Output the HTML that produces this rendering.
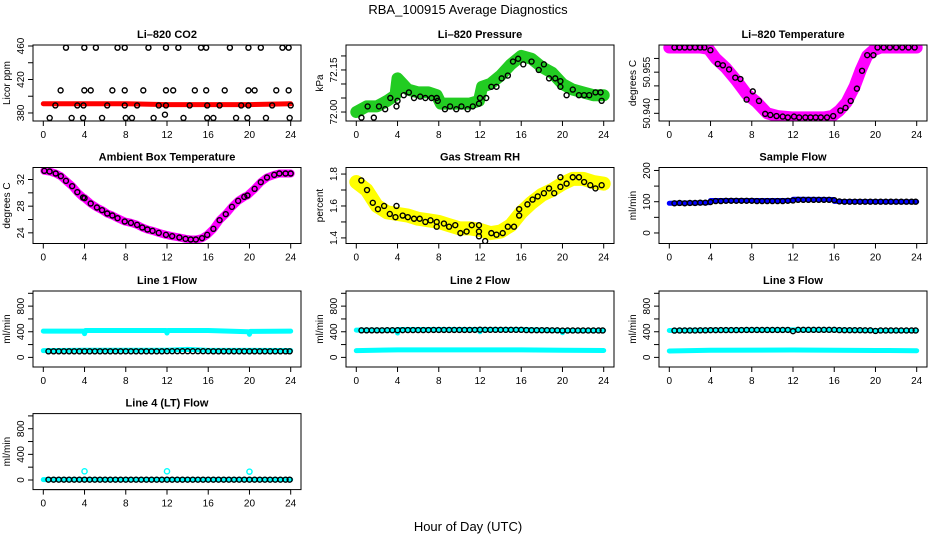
<!DOCTYPE html>
<html><head><meta charset="utf-8"><style>
html,body{margin:0;padding:0;background:#fff;}
svg{display:block;font-family:"Liberation Sans",Arial,sans-serif;}
</style></head><body>
<svg id="chart" width="936" height="540" viewBox="0 0 936 540" xmlns="http://www.w3.org/2000/svg">
<rect width="936" height="540" fill="#fff"/>
<text x="468" y="14" font-size="13" text-anchor="middle">RBA_100915  Average Diagnostics</text>
<text x="468" y="531" font-size="13" text-anchor="middle">Hour of Day (UTC)</text>
</svg>
<script>
// ---------- DATA ----------
const xTicks = [0,4,8,12,16,20,24];
// CO2
const co2Hours = [2.2,3.98,5.1,7.2,7.9,10.2,11.9,13.1,15.3,15.8,18.1,19.9,21.1,23.2,23.8,
 1.68,3.98,4.6,6.7,7.9,9.7,11.9,12.6,14.7,15.8,17.6,19.9,20.5,22.6,23.8,
 1.17,3.3,3.9,6.2,7.9,9.1,11.2,11.9,14.2,15.9,17.1,19.2,19.9,22.2,24.0,
 0.62,2.75,3.86,5.7,8.0,8.6,10.7,11.8,13.6,15.9,16.5,18.7,19.8,21.6,23.9];
const co2Vals = [458,458,458,458,458,458,458,458,458,458,458,458,458,458,458,
 407,407,407,407,407,407,407,407,407,407,407,407,407,407,407,
 389,389,389,389,389,389,389,389,389,389,389,389,389,389,389,
 374,374,374,374,374,374,374,378,374,374,374,374,374,374,374];
const co2BandH = [0,4,8,12,16,20,24];
const co2BandV = [391,391,391,390,390,390,391];
// Pressure
const presHours = [0.5,1.1,1.7,2.2,2.8,3.3,3.9,4.0,4.6,5.1,5.6,6.2,6.7,7.3,7.8,7.9,8.6,9.1,9.7,10.2,10.8,11.3,11.9,12.0,12.6,13.1,13.6,14.1,14.7,15.2,15.7,16.2,17.0,17.7,18.2,18.7,19.3,19.8,19.8,20.4,21.0,21.6,22.1,22.6,23.2,23.7,23.8];
const presVals = [71.98,72.02,71.98,72.02,72.01,72.05,72.02,72.04,72.06,72.07,72.05,72.055,72.05,72.05,72.05,72.04,72.01,72.02,72.01,72.02,72.01,72.02,72.03,72.05,72.05,72.09,72.09,72.12,72.13,72.18,72.19,72.17,72.18,72.15,72.17,72.12,72.12,72.11,72.09,72.06,72.08,72.06,72.06,72.06,72.07,72.07,72.04];
const presBandH = [0,1,2,3,3.8,4,4.5,5,6,7,7.8,8.2,9,10,11,11.9,12.2,13,14,15,16,17,18,19,20,21,22,23,24];
const presBandV = [72.00,72.02,72.02,72.04,72.06,72.12,72.10,72.08,72.07,72.07,72.06,72.03,72.03,72.03,72.03,72.04,72.09,72.10,72.13,72.17,72.20,72.19,72.16,72.14,72.10,72.08,72.07,72.06,72.06];
// Li-820 temperature
const tempHours = [0.5,1.0,1.5,2.0,2.5,3.0,3.4,3.99,4.7,5.2,5.8,6.4,6.9,7.5,8.1,8.7,9.3,9.8,10.4,11.0,11.5,12.1,12.6,13.2,13.7,14.2,14.7,15.3,15.9,16.6,17.1,17.6,18.2,18.7,19.2,19.8,20.2,20.8,21.4,22.0,22.6,23.2,23.8];
const tempVals = [50.964,50.964,50.964,50.964,50.964,50.964,50.964,50.963,50.958,50.9575,50.956,50.953,50.9525,50.945,50.948,50.9445,50.9398,50.9394,50.939,50.9388,50.9385,50.9388,50.9385,50.9385,50.9385,50.9385,50.9385,50.9385,50.939,50.941,50.942,50.9445,50.949,50.9555,50.9612,50.9612,50.964,50.964,50.964,50.964,50.964,50.964,50.964];
const tempBandH = [0,1,2,3,3.8,4.5,5.5,6.5,7.5,8.5,9.5,10.5,12,13,14,15,15.8,16.5,17.2,18,18.6,19.2,19.8,20.5,22,24];
const tempBandV = [50.964,50.964,50.964,50.964,50.9635,50.960,50.9565,50.952,50.947,50.944,50.940,50.939,50.9385,50.9385,50.9385,50.9385,50.939,50.941,50.944,50.950,50.956,50.961,50.963,50.964,50.964,50.964];
// Ambient box temperature
const ambHours = [0.1,0.61,1.2,1.7,2.2,2.8,3.3,3.86,4.0,4.6,5.2,5.7,6.2,6.7,7.2,7.9,8.5,9.1,9.6,10.1,10.6,11.2,11.9,12.5,13.2,13.8,14.3,14.8,15.4,15.9,16.5,17.1,17.7,18.3,18.9,19.5,19.8,20.5,21.1,21.7,22.4,22.9,23.5,24.0];
const ambVals = [33.3,33.2,32.9,32.5,31.8,31.0,30.1,29.3,29.2,28.4,27.8,27.4,26.9,26.6,26.2,25.7,25.5,25.2,24.8,24.5,24.3,24.0,23.7,23.5,23.3,23.1,23.0,23.0,23.2,23.7,24.6,25.9,26.8,27.9,28.8,29.4,29.6,30.6,31.6,32.3,32.7,32.9,32.9,32.9];
// Gas stream RH
const rhHours = [0.49,1.04,1.6,2.1,2.7,3.25,3.8,3.9,4.5,5.0,5.6,6.15,6.7,7.2,7.8,7.8,8.5,9.0,9.6,10.1,10.7,11.2,11.9,11.9,11.9,12.5,13.1,13.6,14.2,14.7,15.3,15.8,15.8,16.6,17.1,17.6,18.2,18.7,19.2,19.8,19.8,20.4,21.0,21.6,22.1,22.7,23.2,23.8];
const rhVals = [1.76,1.70,1.62,1.58,1.60,1.55,1.53,1.60,1.54,1.53,1.52,1.52,1.50,1.51,1.50,1.47,1.49,1.47,1.48,1.43,1.44,1.48,1.48,1.44,1.41,1.38,1.43,1.42,1.43,1.47,1.47,1.58,1.54,1.61,1.64,1.66,1.68,1.71,1.68,1.78,1.72,1.74,1.78,1.78,1.75,1.73,1.71,1.73];
const rhBandH = [0,1,2,3,4,5,6,7,8,9,10,11,12,13,14,15,16,17,18,19,20,21,22,23,24];
const rhBandV = [1.75,1.70,1.60,1.56,1.55,1.54,1.52,1.51,1.50,1.48,1.46,1.46,1.45,1.43,1.44,1.48,1.56,1.62,1.67,1.70,1.74,1.77,1.77,1.75,1.74];
// Flows (hours shared by black averages)
const flowHours = [0.5,1,1.5,2,2.5,3,3.5,4,4.5,5,5.5,6,6.5,7,7.5,8,8.5,9,9.5,10,10.5,11,11.5,12,12.5,13,13.5,14,14.5,15,15.5,16,16.5,17,17.5,18,18.5,19,19.5,20,20.5,21,21.5,22,22.5,23,23.5,23.9];
const sampleVals = [95,96,95,96,96,97,97,99,102,102,103,103,103,103,103,103,102,102,102,102,102,102,103,104,106,106,106,106,106,106,106,105,101,100,100,100,100,100,100,100,100,100,100,100,100,100,100,100];
const sampleBandH = [0,3.9,4,11.9,12,15.9,16,24];
const sampleBandV = [95,97,104,104,108,107,101,100];
const line1Vals = [95,95,95,95,95,95,95,95,95,95,95,95,95,95,95,95,95,95,95,95,95,95,95,96,96,96,96,96,96,96,96,96,95,95,95,95,95,95,95,95,95,95,95,95,95,95,95,95];
const line1HighH = [0,3.9,4,4.1,8,11.9,12,12.1,16,19.9,20,20.1,24];
const line1HighV = [410,410,370,420,420,420,380,420,420,400,360,405,410];
const line1LowH = [0,4,12,14,16,24];
const line1LowV = [105,112,112,125,110,108];
const line2Vals = [422,422,422,422,422,424,424,424,425,426,426,426,426,427,428,428,428,428,428,428,428,428,429,432,430,430,430,430,430,430,430,430,426,424,424,424,424,422,422,418,420,420,420,420,420,420,420,420];
const line2HighH = [0,3.9,4,4.1,8,11.9,12,12.1,16,19.9,20,20.1,24];
const line2HighV = [425,425,380,435,435,435,400,435,435,420,385,420,420];
const line2LowH = [0,4,12,16,20,24];
const line2LowV = [105,118,118,118,112,108];
const line3Vals = [418,420,420,420,420,422,422,425,425,426,426,426,426,427,428,428,428,428,428,428,428,428,429,410,430,430,430,430,430,430,430,430,426,424,424,424,424,422,422,412,420,420,420,420,420,420,420,420];
const line3HighH = [0,4,8,12,16,20,24];
const line3HighV = [420,425,430,430,430,420,420];
const line3LowH = [0,4,12,16,20,24];
const line3LowV = [100,112,115,112,108,104];
const line4Vals = [5,5,5,5,5,5,5,5,5,5,5,5,5,5,5,5,5,5,5,5,5,5,5,5,5,5,5,5,5,5,5,5,5,5,5,5,5,5,5,5,5,5,5,5,5,5,5,5];
const line4BandH = [0,24];
const line4BandV = [5,5];
const line4OutH = [4.0,12.0,20.0];
const line4OutV = [135,135,130];

// ---------- LAYOUT ----------
const svg = document.getElementById('chart');
const NS = 'http://www.w3.org/2000/svg';
const colLeft = [33,346,659], rowTop = [45,167.5,291,413.6];
const BW = 268, BH = 76;
function mk(tag, attrs){const e=document.createElementNS(NS,tag);for(const k in attrs)e.setAttribute(k,attrs[k]);return e;}

function panel(cfg){
  const L = colLeft[cfg.col], T = rowTop[cfg.row];
  const g = mk('g',{});
  
  
  svg.appendChild(g);
  const sx = h => L + 10.3 + h*(BW-20.6)/24;
  const sy = v => T + BH - (v - cfg.ymin)/(cfg.ymax - cfg.ymin)*BH;
  const cp = mk('clipPath',{id:'clip-'+cfg.id}); cp.appendChild(mk('rect',{x:L,y:T,width:BW,height:BH})); g.appendChild(cp);
  const plot = mk('g',{'clip-path':'url(#clip-'+cfg.id+')'}); g.appendChild(plot);
  (cfg.bands||[]).forEach(b=>{
    const pts = b.h.map((h,i)=>sx(h)+','+sy(b.v[i])).join(' ');
    const pl = mk('polyline',{points:pts,fill:'none',stroke:b.color,'stroke-width':b.w,'stroke-linejoin':'round','stroke-linecap':'round'});
    
    
    plot.appendChild(pl);
  });
  (cfg.extra||[]).forEach(c=>{
    c.h.forEach((h,i)=>{
      const ci = mk('circle',{cx:sx(h),cy:sy(c.v[i]),r:2.6,fill:'none',stroke:c.color,'stroke-width':1.4});
      
      
      plot.appendChild(ci);
    });
  });
  if(cfg.pts){
    cfg.pts.h.forEach((h,i)=>{
      const ci = mk('circle',{cx:sx(h),cy:sy(cfg.pts.v[i]),r:2.5,fill:'none',stroke:'#000','stroke-width':1.4});
      
      
      plot.appendChild(ci);
    });
  }
  g.appendChild(mk('rect',{x:L,y:T,width:BW,height:BH,fill:'none',stroke:'#000','stroke-width':1}));
  const xa = mk('g',{}); 
  
  
  g.appendChild(xa);
  xa.appendChild(mk('line',{x1:sx(0),x2:sx(24),y1:T+BH,y2:T+BH,stroke:'#000'}));
  xTicks.forEach(t=>{
    xa.appendChild(mk('line',{x1:sx(t),x2:sx(t),y1:T+BH,y2:T+BH+5,stroke:'#000'}));
    const tx = mk('text',{x:sx(t),y:T+BH+17,'font-size':10,'text-anchor':'middle'});
    tx.textContent = t;
    xa.appendChild(tx);
  });
  const ya = mk('g',{});
  
  
  g.appendChild(ya);
  const tk = cfg.ticks;
  ya.appendChild(mk('line',{x1:L,x2:L,y1:sy(tk[0]),y2:sy(tk[tk.length-1]),stroke:'#000'}));
  tk.forEach(t=>ya.appendChild(mk('line',{x1:L-5,x2:L,y1:sy(t),y2:sy(t),stroke:'#000'})));
  cfg.labels.forEach((lab,i)=>{
    const yy = sy(cfg.labelVals[i]);
    const tx = mk('text',{x:L-9,y:yy,'font-size':10,'text-anchor':'middle',transform:'rotate(-90 '+(L-9)+' '+yy+')'});
    tx.textContent = lab; ya.appendChild(tx);
  });
  const yt = mk('text',{x:L-23,y:T+BH/2,'font-size':10,'text-anchor':'middle',transform:'rotate(-90 '+(L-23)+' '+(T+BH/2)+')'});
  yt.textContent = cfg.ylab;
  
  
  g.appendChild(yt);
  const tt = mk('text',{x:L+BW/2,y:T-7,'font-size':11,'font-weight':'bold','text-anchor':'middle'});
  tt.textContent = cfg.title;
  
  
  g.appendChild(tt);
}

const flowTicks=[0,200,400,600,800,1000], flowLab=['0','400','800'], flowLabV=[0,400,800];
panel({id:'co2',title:'Li–820 CO2',ylab:'Licor ppm',col:0,row:0,ymin:370.4,ymax:461.2,ticks:[380,400,420,440,460],labels:['380','420','460'],labelVals:[380,420,460],
  bands:[{h:co2BandH,v:co2BandV,color:'#ff0000',w:5}],pts:{h:co2Hours,v:co2Vals}});
panel({id:'pressure',title:'Li–820 Pressure',ylab:'kPa',col:1,row:0,ymin:71.968,ymax:72.239,ticks:[72.00,72.05,72.10,72.15,72.20],labels:['72.00','72.15'],labelVals:[72.00,72.15],
  bands:[{h:presBandH,v:presBandV,color:'#22cc22',w:12}],pts:{h:presHours,v:presVals}});
panel({id:'li820-temp',title:'Li–820 Temperature',ylab:'degrees C',col:2,row:0,ymin:50.9372,ymax:50.9649,ticks:[50.940,50.945,50.950,50.955,50.960],labels:['50.940','50.955'],labelVals:[50.940,50.955],
  bands:[{h:tempBandH,v:tempBandV,color:'#ff00ff',w:12}],pts:{h:tempHours,v:tempVals}});
panel({id:'ambient-temp',title:'Ambient Box Temperature',ylab:'degrees C',col:0,row:1,ymin:22.4,ymax:33.8,ticks:[24,26,28,30,32],labels:['24','28','32'],labelVals:[24,28,32],
  bands:[{h:ambHours,v:ambVals,color:'#ff00ff',w:8}],pts:{h:ambHours,v:ambVals}});
panel({id:'rh',title:'Gas Stream RH',ylab:'percent',col:1,row:1,ymin:1.365,ymax:1.841,ticks:[1.4,1.5,1.6,1.7,1.8],labels:['1.4','1.6','1.8'],labelVals:[1.4,1.6,1.8],
  bands:[{h:rhBandH,v:rhBandV,color:'#ffff00',w:14}],pts:{h:rhHours,v:rhVals}});
panel({id:'sample-flow',title:'Sample Flow',ylab:'ml/min',col:2,row:1,ymin:-33.7,ymax:209.5,ticks:[0,50,100,150,200],labels:['0','100','200'],labelVals:[0,100,200],
  bands:[{h:sampleBandH,v:sampleBandV,color:'#0000ff',w:5}],pts:{h:flowHours,v:sampleVals}});
panel({id:'line1-flow',title:'Line 1 Flow',ylab:'ml/min',col:0,row:2,ymin:-150,ymax:1036,ticks:flowTicks,labels:flowLab,labelVals:flowLabV,
  bands:[{h:line1HighH,v:line1HighV,color:'#00ffff',w:5},{h:line1LowH,v:line1LowV,color:'#00ffff',w:5}],pts:{h:flowHours,v:line1Vals}});
panel({id:'line2-flow',title:'Line 2 Flow',ylab:'ml/min',col:1,row:2,ymin:-150,ymax:1036,ticks:flowTicks,labels:flowLab,labelVals:flowLabV,
  bands:[{h:line2HighH,v:line2HighV,color:'#00ffff',w:5},{h:line2LowH,v:line2LowV,color:'#00ffff',w:5}],pts:{h:flowHours,v:line2Vals}});
panel({id:'line3-flow',title:'Line 3 Flow',ylab:'ml/min',col:2,row:2,ymin:-150,ymax:1036,ticks:flowTicks,labels:flowLab,labelVals:flowLabV,
  bands:[{h:line3HighH,v:line3HighV,color:'#00ffff',w:5},{h:line3LowH,v:line3LowV,color:'#00ffff',w:5}],pts:{h:flowHours,v:line3Vals}});
panel({id:'line4-flow',title:'Line 4 (LT) Flow',ylab:'ml/min',col:0,row:3,ymin:-150,ymax:1036,ticks:flowTicks,labels:flowLab,labelVals:flowLabV,
  bands:[{h:line4BandH,v:line4BandV,color:'#00ffff',w:5}],extra:[{h:line4OutH,v:line4OutV,color:'#00ffff'}],pts:{h:flowHours,v:line4Vals}});
</script>
</body></html>
